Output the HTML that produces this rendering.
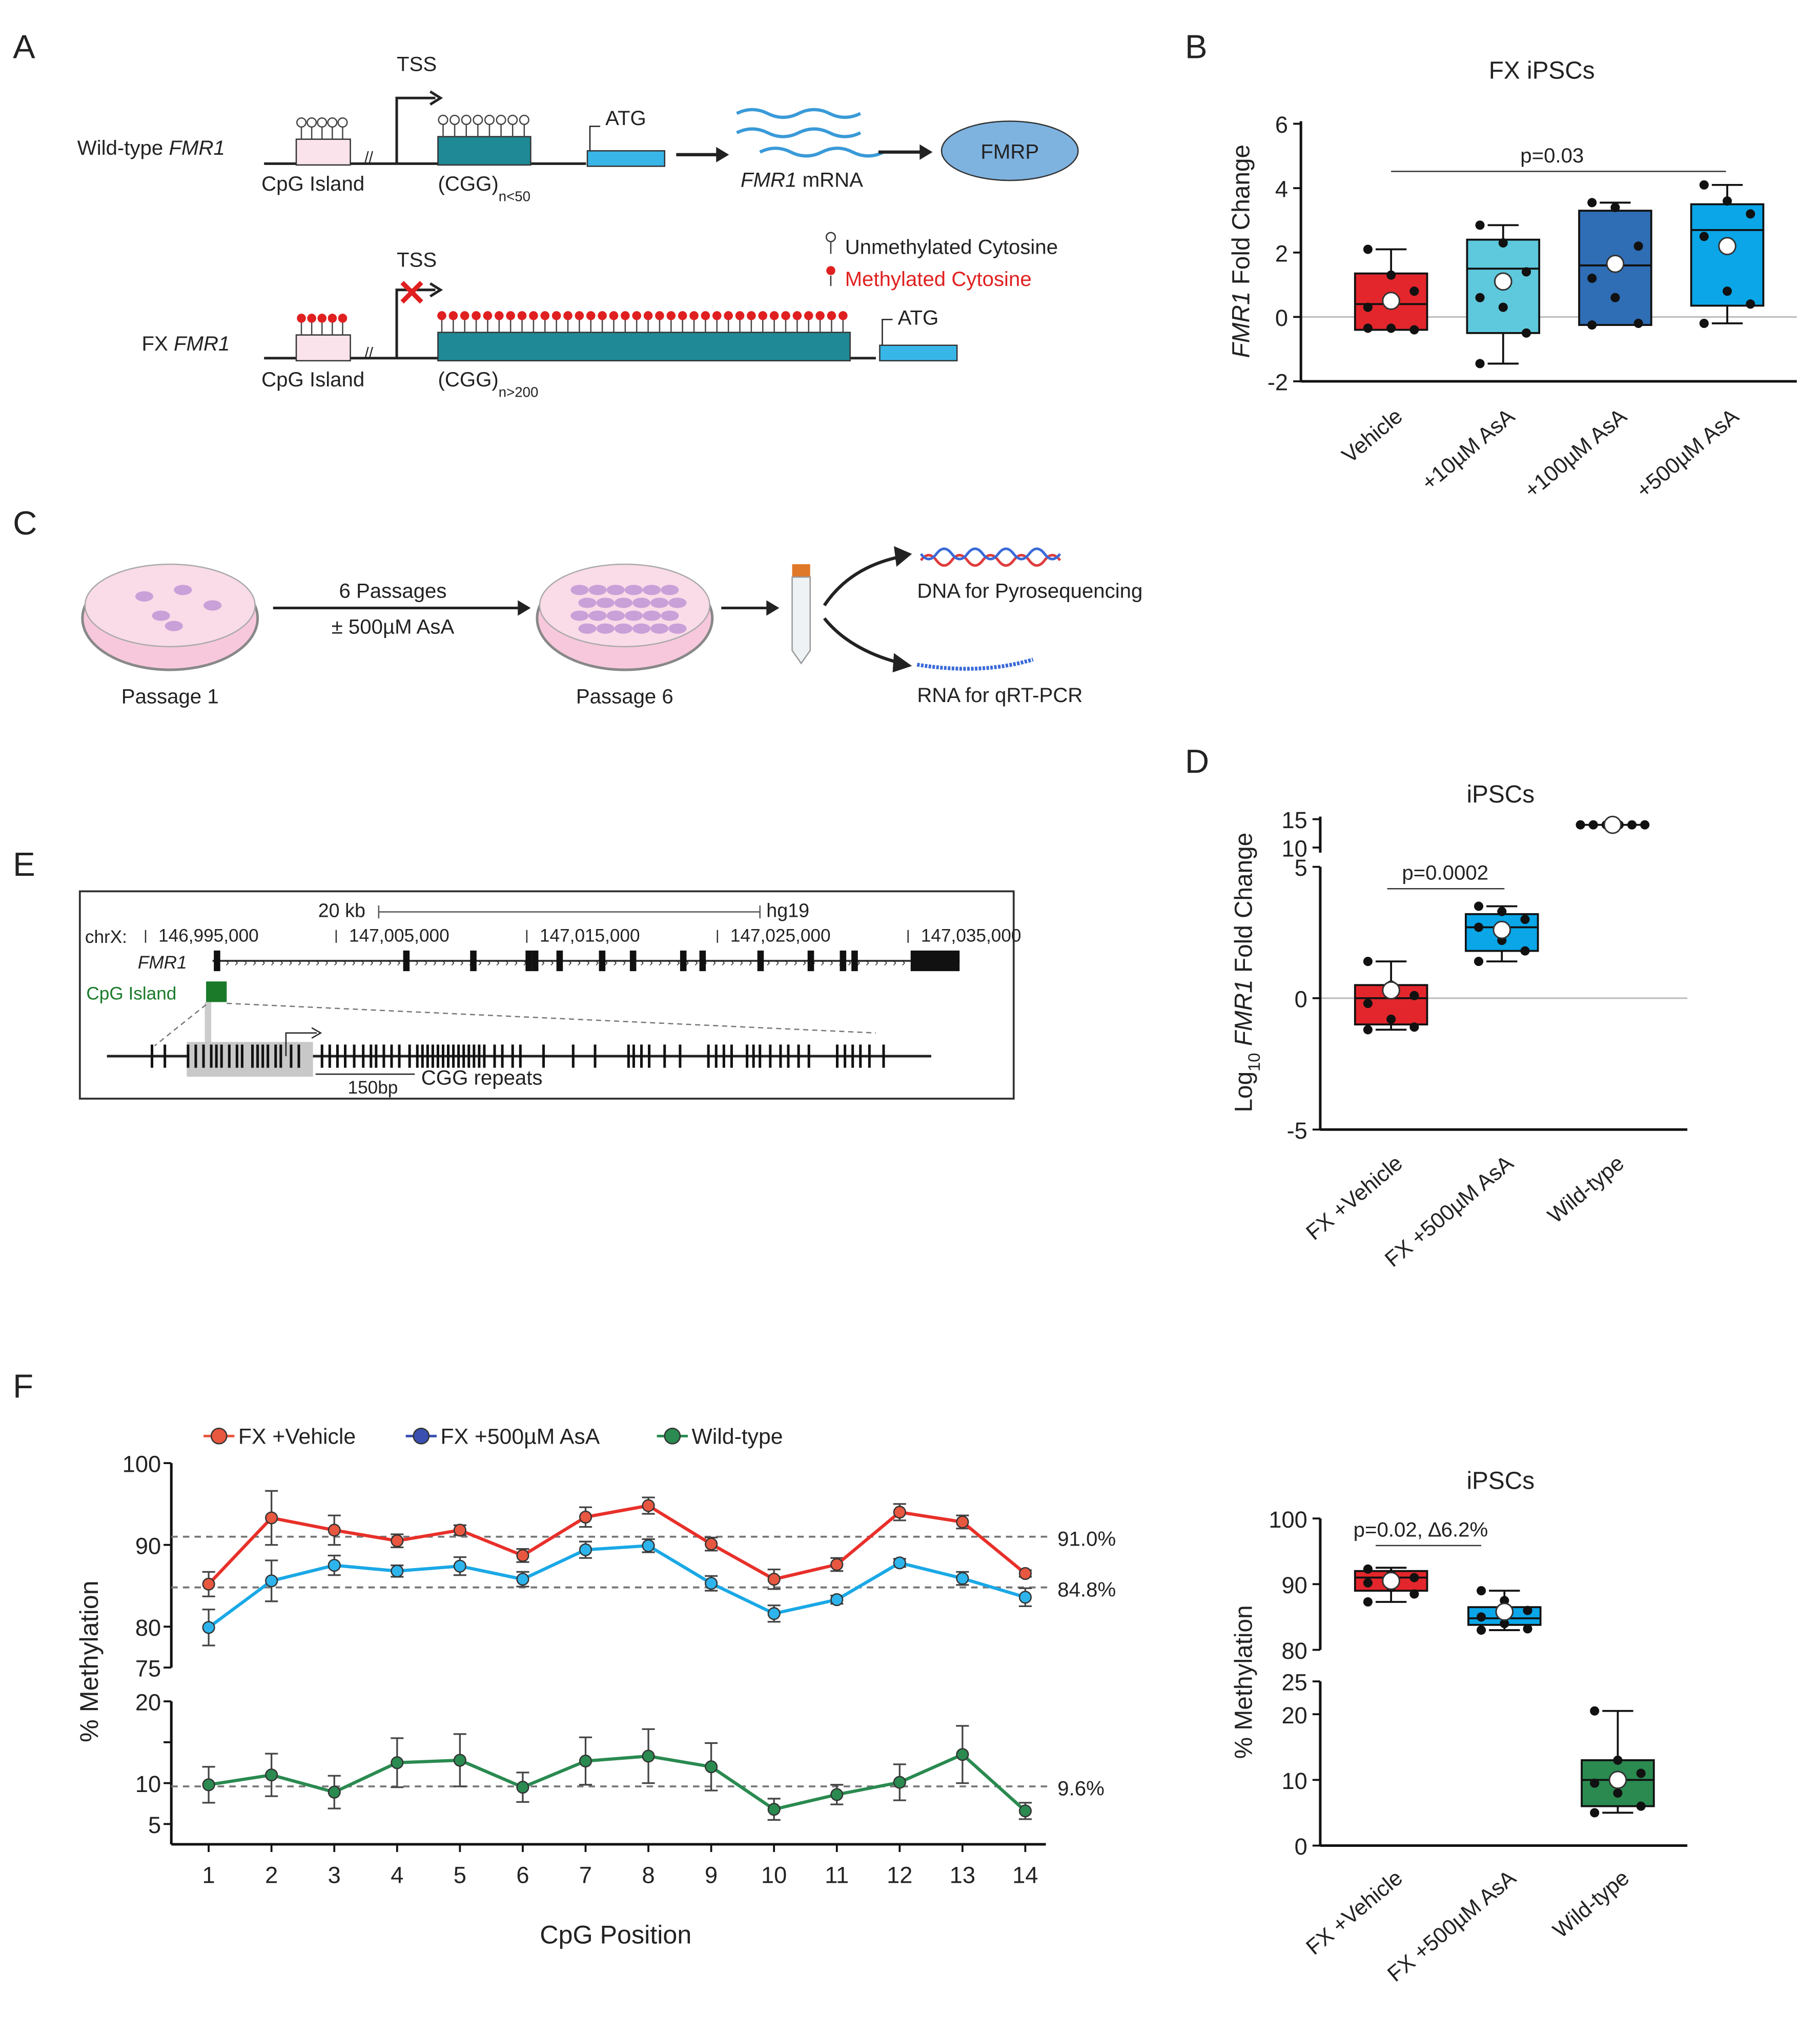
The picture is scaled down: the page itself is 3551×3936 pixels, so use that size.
<!DOCTYPE html>
<html><head><meta charset="utf-8">
<style>
html,body{margin:0;padding:0;background:#fff;}
svg{display:block;}
text{font-family:"Liberation Sans",sans-serif;fill:#222;}
</style></head>
<body>
<svg id="fig" xmlns="http://www.w3.org/2000/svg" width="3551" height="3936" viewBox="0 0 1413 1566">
<rect width="1413" height="1566" fill="#fff"/>
<!-- Panel labels -->
<g font-size="26">
<text x="10" y="45">A</text>
<text x="920" y="45">B</text>
<text x="10" y="415">C</text>
<text x="920" y="600">D</text>
<text x="10" y="680">E</text>
<text x="10" y="1085">F</text>
</g>

<!-- Panel A -->
<g id="panelA" font-size="16">
<text x="60" y="120">Wild-type <tspan font-style="italic">FMR1</tspan></text>
<line x1="205" y1="127" x2="455" y2="127" stroke="#222" stroke-width="2"/>
<rect x="230" y="108" width="42" height="20" fill="#fbe3ec" stroke="#333"/>
<text x="203" y="148">CpG Island</text>
<text x="283" y="126" font-size="12">//</text>
<path d="M308 127 V76 H338" fill="none" stroke="#222" stroke-width="2"/><path d="M334 71 L342 76 L334 81" fill="none" stroke="#222" stroke-width="2"/>
<text x="308" y="55">TSS</text>
<rect x="340" y="106" width="72" height="22" fill="#1f8a96" stroke="#333"/>
<text x="340" y="148">(CGG)<tspan font-size="11" dy="8">n&lt;50</tspan></text>
<rect x="456" y="117" width="60" height="12" fill="#38b6e8" stroke="#333"/>
<path d="M458 117 V98 H466" fill="none" stroke="#222"/>
<text x="470" y="97">ATG</text>
<line x1="525" y1="120" x2="560" y2="120" stroke="#222" stroke-width="2.5"/><path d="M556 114 L566 120 L556 126Z" fill="#222"/>
<path d="M572 88 q12 -6 24 0 t24 0 t24 0 t24 0 M572 103 q12 -6 24 0 t24 0 t24 0 t24 0 M590 118 q12 -6 24 0 t24 0 t24 0 t24 0" fill="none" stroke="#3a9ad8" stroke-width="2.5"/>
<text x="575" y="145"><tspan font-style="italic">FMR1</tspan> mRNA</text>
<line x1="682" y1="118" x2="718" y2="118" stroke="#222" stroke-width="2.5"/><path d="M714 112 L724 118 L714 124Z" fill="#222"/>
<ellipse cx="784" cy="117" rx="53" ry="23" fill="#7eb3e0" stroke="#333"/>
<text x="784" y="123" text-anchor="middle">FMRP</text>
<g id="wtLoll1"></g>
<text x="110" y="272">FX <tspan font-style="italic">FMR1</tspan></text>
<line x1="205" y1="278" x2="680" y2="278" stroke="#222" stroke-width="2"/>
<rect x="230" y="260" width="42" height="20" fill="#fbe3ec" stroke="#333"/>
<text x="203" y="300">CpG Island</text>
<text x="283" y="278" font-size="12">//</text>
<path d="M308 278 V225 H338" fill="none" stroke="#222" stroke-width="2"/><path d="M334 220 L342 225 L334 230" fill="none" stroke="#222" stroke-width="2"/>
<text x="308" y="207">TSS</text>
<text x="308" y="237" font-size="28" fill="#e02020" style="fill:#e02020" font-weight="bold">✕</text>
<rect x="340" y="258" width="320" height="22" fill="#1f8a96" stroke="#333"/>
<text x="340" y="300">(CGG)<tspan font-size="11" dy="8">n&gt;200</tspan></text>
<rect x="683" y="268" width="60" height="12" fill="#38b6e8" stroke="#333"/>
<path d="M685 268 V248 H693" fill="none" stroke="#222"/>
<text x="697" y="252">ATG</text>
<circle cx="645" cy="184" r="3.5" fill="#fff" stroke="#333"/><line x1="645" y1="188" x2="645" y2="197" stroke="#333"/>
<text x="656" y="197">Unmethylated Cytosine</text>
<circle cx="645" cy="210" r="3.5" fill="#e02020"/><line x1="645" y1="214" x2="645" y2="222" stroke="#333"/>
<text x="656" y="222" style="fill:#e02020">Methylated Cytosine</text>
<g id="lolls"></g>
</g>

<!-- Panel C -->
<g font-size="16">
<ellipse cx="132" cy="480" rx="68" ry="40" fill="#f7c8dc" stroke="#888" stroke-width="2"/>
<ellipse cx="132" cy="470" rx="66" ry="32" fill="#fadbe8" stroke="#aaa"/>
<ellipse cx="485" cy="480" rx="68" ry="40" fill="#f7c8dc" stroke="#888" stroke-width="2"/>
<ellipse cx="485" cy="470" rx="66" ry="32" fill="#fadbe8" stroke="#aaa"/>
<g id="cells"></g>
<text x="132" y="546" text-anchor="middle">Passage 1</text>
<text x="485" y="546" text-anchor="middle">Passage 6</text>
<line x1="212" y1="472" x2="405" y2="472" stroke="#222" stroke-width="2"/><path d="M402 466 L412 472 L402 478Z" fill="#222"/>
<text x="305" y="464" text-anchor="middle">6 Passages</text>
<text x="305" y="492" text-anchor="middle">± 500µM AsA</text>
<line x1="560" y1="472" x2="598" y2="472" stroke="#222" stroke-width="2"/><path d="M595 466 L605 472 L595 478Z" fill="#222"/>
<rect x="615" y="438" width="14" height="10" fill="#e0782a"/>
<path d="M615 448 H629 V505 L622 515 L615 505Z" fill="#eef2f5" stroke="#999"/>
<path d="M640 470 Q660 440 700 432" fill="none" stroke="#222" stroke-width="2.5"/><path d="M694 424 L708 430 L696 440Z" fill="#222"/>
<path d="M640 480 Q660 505 700 515" fill="none" stroke="#222" stroke-width="2.5"/><path d="M694 507 L708 517 L693 522Z" fill="#222"/>
<path d="M715 435 q6 -8 12 0 t12 0 t12 0 t12 0 t12 0 t12 0 t12 0 t12 0 t12 0" fill="none" stroke="#e03c3c" stroke-width="2"/>
<path d="M715 430 q6 8 12 0 t12 0 t12 0 t12 0 t12 0 t12 0 t12 0 t12 0 t12 0" fill="none" stroke="#3a6ad8" stroke-width="2"/>
<text x="712" y="464">DNA for Pyrosequencing</text>
<path d="M712 516 q50 8 90 -4" fill="none" stroke="#3a6ad8" stroke-width="3" stroke-dasharray="2 1"/>
<text x="712" y="545">RNA for qRT-PCR</text>
</g>

<!-- Panel E -->
<g font-size="14">
<rect x="62" y="692" width="725" height="161" fill="#fff" stroke="#333" stroke-width="1.5"/>
<text x="247" y="712" font-size="15">20 kb</text>
<line x1="294" y1="708" x2="590" y2="708" stroke="#555"/><line x1="294" y1="703" x2="294" y2="713" stroke="#555"/><line x1="590" y1="703" x2="590" y2="713" stroke="#555"/>
<text x="595" y="712" font-size="15">hg19</text>
<text x="66" y="732">chrX:</text>
<g id="chrticks"></g>
<text x="107" y="752" font-style="italic">FMR1</text>
<line x1="165" y1="746" x2="745" y2="746" stroke="#333" stroke-width="1.5"/>
<g id="exons"></g>
<text x="67" y="776" style="fill:#1a7a2a">CpG Island</text>
<rect x="160" y="762" width="16" height="16" fill="#1a7a2a"/>
<rect x="159" y="778" width="5" height="44" fill="#ccc"/>
<line x1="160" y1="780" x2="120" y2="812" stroke="#777" stroke-dasharray="4 3"/>
<line x1="176" y1="779" x2="680" y2="802" stroke="#777" stroke-dasharray="4 3"/>
<line x1="83" y1="820" x2="723" y2="820" stroke="#222" stroke-width="2"/>
<rect x="145" y="809" width="98" height="27" fill="#c8c8c8"/>
<g id="cpgs"></g>
<path d="M222 820 V802 H246" fill="none" stroke="#222"/><path d="M242 798 L249 802 L242 806" fill="none" stroke="#222"/>
<line x1="245" y1="834" x2="322" y2="834" stroke="#222"/>
<text x="270" y="849">150bp</text>
<text x="327" y="842" font-size="16">CGG repeats</text>
</g>

<g id="charts"></g>
</svg>

<script>
// ===== Panel B data =====
const bCats = ["Vehicle","+10µM AsA","+100µM AsA","+500µM AsA"];
const bQ1 = [-0.4,-0.5,-0.25,0.35];
const bQ3 = [1.35,2.4,3.3,3.5];
const bMed = [0.4,1.5,1.6,2.7];
const bMin = [-0.4,-1.45,-0.25,-0.2];
const bMax = [2.1,2.85,3.55,4.1];
const bMean = [0.5,1.1,1.65,2.2];
const bPts = [[2.1,1.3,0.8,0.3,-0.35,-0.4,-0.35],[2.85,2.3,1.4,0.6,0.3,-0.5,-1.45],[3.55,3.4,2.2,1.2,0.6,-0.2,-0.25],[4.1,3.6,3.2,2.5,0.8,0.4,-0.2]];
const bTicks = [-2,0,2,4,6];
// ===== Panel D data =====
const dCats = ["FX +Vehicle","FX +500µM AsA","Wild-type"];
const dQ1 = [-1.0,1.8,null];
const dQ3 = [0.5,3.2,null];
const dMed = [0,2.7,null];
const dMin = [-1.2,1.4,null];
const dMax = [1.4,3.5,null];
const dMean = [0.3,2.6,14];
const dPts = [[1.4,0.5,0.1,-0.2,-0.8,-1.1,-1.2],[3.5,3.3,3.0,2.7,2.2,1.8,1.4],[14,14,14,14,14,14]];
const dTicks = [-5,0,5];
const dTicksUpper = [10,15];
// ===== Panel F line data =====
const fPos = [1,2,3,4,5,6,7,8,9,10,11,12,13,14];
const fVeh = [85.2,93.3,91.8,90.5,91.8,88.7,93.4,94.8,90.1,85.8,87.6,94.0,92.8,86.5];
const fVehErr = [1.5,3.3,1.8,0.8,0.6,0.8,1.2,1.0,0.8,1.2,0.8,1.0,0.8,0.4];
const fAsa = [79.9,85.6,87.5,86.8,87.4,85.8,89.4,89.9,85.3,81.6,83.3,87.8,85.9,83.6];
const fAsaErr = [2.2,2.5,1.2,0.7,1.1,0.9,1.0,0.8,0.9,1.0,0.5,0.5,0.8,1.1];
const fWt = [9.8,11.0,8.9,12.5,12.8,9.5,12.7,13.3,12.0,6.8,8.6,10.1,13.5,6.6];
const fWtErr = [2.2,2.6,2.0,3.0,3.2,1.8,2.9,3.3,2.9,1.3,1.2,2.2,3.5,1.0];
const fTicksUpper = [75,80,90,100];
const fTicksLower = [5,10,20];
const fRefs = [91.0,84.8,9.6];
// ===== Panel F box data =====
const gCats = ["FX +Vehicle","FX +500µM AsA","Wild-type"];
const gQ1 = [89,83.8,6];
const gQ3 = [92,86.5,13];
const gMed = [91,84.8,10];
const gMin = [87.3,83,5];
const gMax = [92.5,89,20.5];
const gMean = [90.5,85.8,10];
const gPts = [[92.3,91.5,91,90.2,89.5,88.5,87.3],[89,87.5,86,85,84,83.2,83],[20.5,13,11,9.5,8,6,5]];
const gTicksUpper = [80,90,100];
const gTicksLower = [0,10,20,25];

const NS="http://www.w3.org/2000/svg";
const charts=document.getElementById('charts');
function mk(tag,attrs,parent,txt){const e=document.createElementNS(NS,tag);for(const k in attrs)e.setAttribute(k,attrs[k]);if(txt!==undefined)e.textContent=txt;(parent||charts).appendChild(e);return e;}

// ---- Panel A lollipops ----
const lolls=document.getElementById('lolls');
function lolli(x,y,fill){mk('line',{x1:x,y1:y,x2:x,y2:y-10,stroke:'#444'},lolls);mk('circle',{cx:x,cy:y-13,r:3.5,fill:fill,stroke:fill==='#fff'?'#444':'none'},lolls);}
for(let i=0;i<5;i++)lolli(234+i*8,108,'#fff');
for(let i=0;i<8;i++)lolli(344+i*9,106,'#fff');
for(let i=0;i<5;i++)lolli(234+i*8,260,'#e02020');
for(let i=0;i<36;i++)lolli(343+i*8.9,258,'#e02020');

// ---- Panel C cells ----
const cells=document.getElementById('cells');
[[112,463],[142,458],[165,470],[125,478],[135,486]].forEach(p=>mk('ellipse',{cx:p[0],cy:p[1],rx:7,ry:4,fill:'#c9a0d8'},cells));
for(let r=0;r<4;r++)for(let c=0;c<6;c++)mk('ellipse',{cx:450+c*14+(r%2)*6,cy:458+r*10,rx:7,ry:4,fill:'#c9a0d8'},cells);

// ---- Panel E ----
const ct=document.getElementById('chrticks');
["146,995,000","147,005,000","147,015,000","147,025,000","147,035,000"].forEach((l,i)=>{const x=113+i*148;mk('line',{x1:x,y1:722,x2:x,y2:732,stroke:'#333'},ct);mk('text',{x:x+10,y:731,'font-size':14},ct,l);});
const ex=document.getElementById('exons');
for(let x=175;x<705;x+=7)mk('text',{x:x,y:750,'font-size':9},ex,'›');
[166,313,365,408,413,432,465,489,528,543,588,627,652,661].forEach(x=>mk('rect',{x:x,y:738,width:5,height:16,fill:'#111'},ex));
mk('rect',{x:707,y:738,width:38,height:16,fill:'#111'},ex);
const cp=document.getElementById('cpgs');
[118,128,146,152,158,164,168,172,178,184,188,196,200,204,208,214,218,226,232,250,256,262,268,275,282,288,292,298,304,310,318,324,328,332,336,340,344,348,352,356,360,364,368,372,376,384,390,398,404,422,445,462,488,492,498,504,516,528,550,556,562,568,580,585,590,598,606,612,620,628,650,656,662,668,675,686].forEach(x=>mk('line',{x1:x,y1:811,x2:x,y2:829,stroke:'#111','stroke-width':2},cp));

// ---- generic boxplot ----
function boxPanel(o){
  const g=mk('g',{});
  
  
  return g;
}
const colB=["#e3262c","#5ec8dc","#2f6db5","#0aa6e8"];

// Panel B
(function(){
  const g=boxPanel({name:'panel-b-chart'});
  const y=v=>246-v*25, X0=1010,X1=1395;
  const xs=i=>1080+i*87;
  mk('text',{x:1197,y:61,'font-size':19,'text-anchor':'middle'},g,'FX iPSCs');
  mk('line',{x1:X0,y1:246,x2:X1,y2:246,stroke:'#bbb','stroke-width':1.2},g);
  mk('line',{x1:X0,y1:y(6)-2,x2:X0,y2:y(-2),stroke:'#111','stroke-width':2},g);
  mk('line',{x1:X0,y1:y(-2),x2:X1,y2:y(-2),stroke:'#111','stroke-width':2},g);
  bTicks.forEach(t=>{mk('line',{x1:X0-6,y1:y(t),x2:X0,y2:y(t),stroke:'#111','stroke-width':1.5},g);mk('text',{x:X0-10,y:y(t)+7,'font-size':18,'text-anchor':'end'},g,String(t));});
  const yl=mk('text',{transform:'translate(970,195) rotate(-90)','font-size':19,'text-anchor':'middle'},g);
  yl.innerHTML='<tspan font-style="italic">FMR1</tspan> Fold Change';
  mk('line',{x1:1080,y1:133,x2:1340,y2:133,stroke:'#333'},g);
  mk('text',{x:1205,y:126,'font-size':16,'text-anchor':'middle'},g,'p=0.03');
  bCats.forEach((c,i)=>{const cx=xs(i),w=28;
    const b=mk('g',{},g);
    mk('line',{x1:cx,y1:y(bMax[i]),x2:cx,y2:y(bMin[i]),stroke:'#111','stroke-width':1.5},b);
    mk('line',{x1:cx-12,y1:y(bMax[i]),x2:cx+12,y2:y(bMax[i]),stroke:'#111','stroke-width':1.5},b);
    mk('line',{x1:cx-12,y1:y(bMin[i]),x2:cx+12,y2:y(bMin[i]),stroke:'#111','stroke-width':1.5},b);
    mk('rect',{x:cx-w,y:y(bQ3[i]),width:2*w,height:y(bQ1[i])-y(bQ3[i]),fill:colB[i],stroke:'#111','stroke-width':1.5},b);
    mk('line',{x1:cx-w,y1:y(bMed[i]),x2:cx+w,y2:y(bMed[i]),stroke:'#111','stroke-width':1.5},b);
    bPts[i].forEach((v,j)=>mk('circle',{cx:cx+((j%3)-1)*18,cy:y(v),r:3.6,fill:'#111'},b));
    mk('circle',{cx:cx,cy:y(bMean[i]),r:6.5,fill:'#fff',stroke:'#333','stroke-width':1.2},b);
    mk('text',{transform:`translate(${cx+10},${325}) rotate(-40)`,'font-size':17,'text-anchor':'end'},g,c);
  });
})();

// Panel D
(function(){
  const g=boxPanel({name:'panel-d-chart'});
  const y=v=>775-v*20.4, yu=v=>658-(v-10)*4.4, X0=1025,X1=1310;
  const xs=i=>1080+i*86;
  mk('text',{x:1165,y:623,'font-size':19,'text-anchor':'middle'},g,'iPSCs');
  mk('line',{x1:X0,y1:775,x2:X1,y2:775,stroke:'#bbb','stroke-width':1.2},g);
  mk('line',{x1:X0,y1:yu(15)-2,x2:X0,y2:yu(10)+4,stroke:'#111','stroke-width':2},g);
  mk('line',{x1:X0,y1:y(5),x2:X0,y2:y(-5),stroke:'#111','stroke-width':2},g);
  mk('line',{x1:X0,y1:y(-5),x2:X1,y2:y(-5),stroke:'#111','stroke-width':2},g);
  dTicks.forEach(t=>{mk('line',{x1:X0-6,y1:y(t),x2:X0,y2:y(t),stroke:'#111','stroke-width':1.5},g);mk('text',{x:X0-10,y:y(t)+7,'font-size':18,'text-anchor':'end'},g,String(t));});
  dTicksUpper.forEach(t=>{mk('line',{x1:X0-6,y1:yu(t),x2:X0,y2:yu(t),stroke:'#111','stroke-width':1.5},g);mk('text',{x:X0-10,y:yu(t)+7,'font-size':18,'text-anchor':'end'},g,String(t));});
  const yl=mk('text',{transform:'translate(972,755) rotate(-90)','font-size':19,'text-anchor':'middle'},g);
  yl.innerHTML='Log<tspan font-size="13" dy="6">10</tspan><tspan dy="-6"> </tspan><tspan font-style="italic">FMR1</tspan> Fold Change';
  mk('line',{x1:1077,y1:690,x2:1168,y2:690,stroke:'#333'},g);
  mk('text',{x:1122,y:683,'font-size':16,'text-anchor':'middle'},g,'p=0.0002');
  const col=["#e3262c","#0aa6e8"];
  dCats.forEach((c,i)=>{const cx=xs(i),w=28;
    const b=mk('g',{},g);
    if(dQ1[i]!==null){
      mk('line',{x1:cx,y1:y(dMax[i]),x2:cx,y2:y(dMin[i]),stroke:'#111','stroke-width':1.5},b);
      mk('line',{x1:cx-12,y1:y(dMax[i]),x2:cx+12,y2:y(dMax[i]),stroke:'#111','stroke-width':1.5},b);
      mk('line',{x1:cx-12,y1:y(dMin[i]),x2:cx+12,y2:y(dMin[i]),stroke:'#111','stroke-width':1.5},b);
      mk('rect',{x:cx-w,y:y(dQ3[i]),width:2*w,height:y(dQ1[i])-y(dQ3[i]),fill:col[i],stroke:'#111','stroke-width':1.5},b);
      mk('line',{x1:cx-w,y1:y(dMed[i]),x2:cx+w,y2:y(dMed[i]),stroke:'#111','stroke-width':1.5},b);
      dPts[i].forEach((v,j)=>mk('circle',{cx:cx+((j%3)-1)*18,cy:y(v),r:3.6,fill:'#111'},b));
      mk('circle',{cx:cx,cy:y(dMean[i]),r:6.5,fill:'#fff',stroke:'#333','stroke-width':1.2},b);
    } else {
      mk('line',{x1:cx-28,y1:yu(dMean[i]),x2:cx+28,y2:yu(dMean[i]),stroke:'#111','stroke-width':1.5},b);
      dPts[i].forEach((v,j)=>mk('circle',{cx:cx-25+j*10,cy:yu(v),r:3.6,fill:'#111'},b));
      mk('circle',{cx:cx,cy:yu(dMean[i]),r:6.5,fill:'#fff',stroke:'#333','stroke-width':1.2},b);
    }
    mk('text',{transform:`translate(${cx+10},${905}) rotate(-40)`,'font-size':17,'text-anchor':'end'},g,c);
  });
})();

// Panel F line chart
(function(){
  const g=boxPanel({name:'panel-f-line-chart'});
  const k=6.35;
  const yu=v=>1136-(v-100)*k*-1*-1 - 0; // placeholder
  const YU=v=>1136+(100-v)*k, YL=v=>1321+(20-v)*k;
  const x=p=>162+(p-1)*48.77, X0=133,X1=812;
  // legend
  const leg=[["FX +Vehicle","#e8573f"],["FX +500µM AsA","#3a4fb0"],["Wild-type","#2a8a50"]];
  const lx=[158,315,510];
  leg.forEach((l,i)=>{const e=mk('g',{},g);
    mk('line',{x1:lx[i],y1:1115,x2:lx[i]+24,y2:1115,stroke:l[1],'stroke-width':2},e);
    mk('circle',{cx:lx[i]+12,cy:1115,r:6,fill:l[1],stroke:'#333'},e);
    mk('text',{x:lx[i]+27,y:1121,'font-size':17},e,l[0]);});
  // axes
  mk('line',{x1:X0,y1:YU(100),x2:X0,y2:YU(75),stroke:'#111','stroke-width':2},g);
  mk('line',{x1:X0,y1:YL(20),x2:X0,y2:1432,stroke:'#111','stroke-width':2},g);
  mk('line',{x1:X0,y1:1432,x2:X1,y2:1432,stroke:'#111','stroke-width':2},g);
  fTicksUpper.forEach(t=>{mk('line',{x1:X0-6,y1:YU(t),x2:X0,y2:YU(t),stroke:'#111','stroke-width':1.5},g);mk('text',{x:X0-8,y:YU(t)+7,'font-size':18,'text-anchor':'end'},g,String(t));});
  fTicksLower.forEach(t=>{mk('line',{x1:X0-6,y1:YL(t),x2:X0,y2:YL(t),stroke:'#111','stroke-width':1.5},g);mk('text',{x:X0-8,y:YL(t)+7,'font-size':18,'text-anchor':'end'},g,String(t));});
  mk('line',{x1:X0-6,y1:YL(15),x2:X0,y2:YL(15),stroke:'#111','stroke-width':1.5},g);
  fPos.forEach(p=>{mk('line',{x1:x(p),y1:1432,x2:x(p),y2:1438,stroke:'#111','stroke-width':1.5},g);mk('text',{x:x(p),y:1462,'font-size':18,'text-anchor':'middle'},g,String(p));});
  mk('text',{x:478,y:1509,'font-size':20,'text-anchor':'middle'},g,'CpG Position');
  mk('text',{transform:'translate(76,1290) rotate(-90)','font-size':20,'text-anchor':'middle'},g,'% Methylation');
  // ref lines
  [[YU(fRefs[0]),fRefs[0]],[YU(fRefs[1]),fRefs[1]],[YL(fRefs[2]),fRefs[2]]].forEach(r=>{
    mk('line',{x1:X0,y1:r[0],x2:815,y2:r[0],stroke:'#777','stroke-width':1.5,'stroke-dasharray':'5 4'},g);
    mk('text',{x:821,y:r[0]+7,'font-size':16},g,r[1].toFixed(1)+'%');});
  function series(vals,errs,ys,col,fill,name){
    const s=mk('g',{},g);
    vals.forEach((v,i)=>{const cx=x(fPos[i]);
      mk('line',{x1:cx,y1:ys(v+errs[i]),x2:cx,y2:ys(v-errs[i]),stroke:'#444','stroke-width':1.3},s);
      mk('line',{x1:cx-5,y1:ys(v+errs[i]),x2:cx+5,y2:ys(v+errs[i]),stroke:'#444','stroke-width':1.3},s);
      mk('line',{x1:cx-5,y1:ys(v-errs[i]),x2:cx+5,y2:ys(v-errs[i]),stroke:'#444','stroke-width':1.3},s);});
    mk('polyline',{points:vals.map((v,i)=>x(fPos[i])+','+ys(v)).join(' '),fill:'none',stroke:col,'stroke-width':2.5},s);
    vals.forEach((v,i)=>mk('circle',{cx:x(fPos[i]),cy:ys(v),r:4.5,fill:fill,stroke:'#333','stroke-width':1},s));
  }
  series(fVeh,fVehErr,YU,'#e8302a','#e8573f','series-fx-vehicle');
  series(fAsa,fAsaErr,YU,'#1aa8e6','#2eb4ec','series-fx-asa');
  series(fWt,fWtErr,YL,'#2a8a50','#2a8a50','series-wild-type');
})();

// Panel F box chart
(function(){
  const g=boxPanel({name:'panel-f-box-chart'});
  const YU=v=>1179+(100-v)*5.1, YL=v=>1433-v*5.1, X0=1025,X1=1310;
  const xs=i=>1080+i*88;
  mk('text',{x:1165,y:1156,'font-size':19,'text-anchor':'middle'},g,'iPSCs');
  mk('line',{x1:X0,y1:YU(100),x2:X0,y2:YU(80),stroke:'#111','stroke-width':2},g);
  mk('line',{x1:X0,y1:YL(25),x2:X0,y2:YL(0),stroke:'#111','stroke-width':2},g);
  mk('line',{x1:X0,y1:YL(0),x2:X1,y2:YL(0),stroke:'#111','stroke-width':2},g);
  gTicksUpper.forEach(t=>{mk('line',{x1:X0-6,y1:YU(t),x2:X0,y2:YU(t),stroke:'#111','stroke-width':1.5},g);mk('text',{x:X0-10,y:YU(t)+7,'font-size':18,'text-anchor':'end'},g,String(t));});
  gTicksLower.forEach(t=>{mk('line',{x1:X0-6,y1:YL(t),x2:X0,y2:YL(t),stroke:'#111','stroke-width':1.5},g);mk('text',{x:X0-10,y:YL(t)+7,'font-size':18,'text-anchor':'end'},g,String(t));});
  mk('text',{transform:'translate(972,1306) rotate(-90)','font-size':19,'text-anchor':'middle'},g,'% Methylation');
  mk('line',{x1:1068,y1:1200,x2:1150,y2:1200,stroke:'#333'},g);
  mk('text',{x:1103,y:1193,'font-size':16,'text-anchor':'middle'},g,'p=0.02, \u22066.2%');
  const col=["#e3262c","#0aa6e8","#2a8a50"];
  gCats.forEach((c,i)=>{const cx=xs(i),w=28,y=i<2?YU:YL;
    const b=mk('g',{},g);
    mk('line',{x1:cx,y1:y(gMax[i]),x2:cx,y2:y(gMin[i]),stroke:'#111','stroke-width':1.5},b);
    mk('line',{x1:cx-12,y1:y(gMax[i]),x2:cx+12,y2:y(gMax[i]),stroke:'#111','stroke-width':1.5},b);
    mk('line',{x1:cx-12,y1:y(gMin[i]),x2:cx+12,y2:y(gMin[i]),stroke:'#111','stroke-width':1.5},b);
    mk('rect',{x:cx-w,y:y(gQ3[i]),width:2*w,height:y(gQ1[i])-y(gQ3[i]),fill:col[i],stroke:'#111','stroke-width':1.5},b);
    mk('line',{x1:cx-w,y1:y(gMed[i]),x2:cx+w,y2:y(gMed[i]),stroke:'#111','stroke-width':1.5},b);
    gPts[i].forEach((v,j)=>mk('circle',{cx:cx+((j%3)-1)*18,cy:y(v),r:3.6,fill:'#111'},b));
    mk('circle',{cx:cx,cy:y(gMean[i]),r:6.5,fill:'#fff',stroke:'#333','stroke-width':1.2},b);
    mk('text',{transform:`translate(${cx+10},${1460}) rotate(-40)`,'font-size':17,'text-anchor':'end'},g,c);
  });
})();
</script>
</body></html>
